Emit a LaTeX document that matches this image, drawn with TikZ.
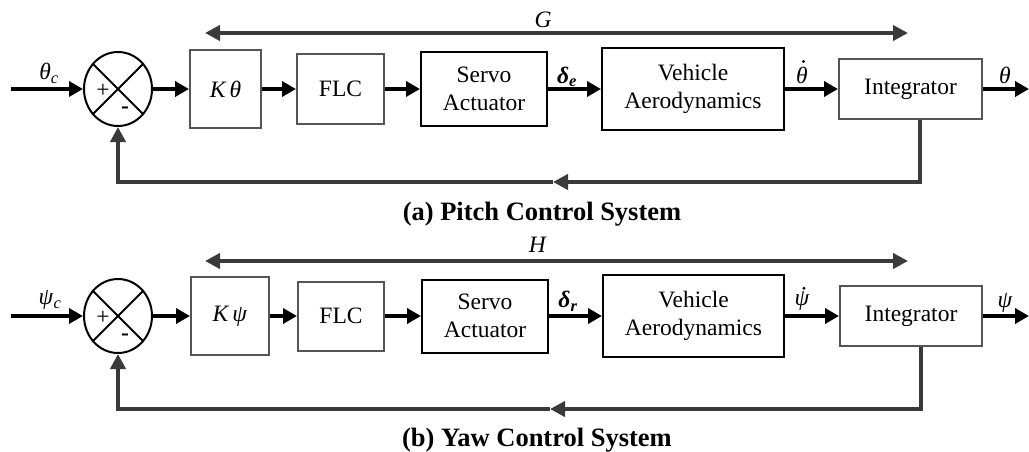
\documentclass[tikz,border=0pt]{standalone}
\usepackage{fontspec}
\setmainfont{Liberation Serif}
\usetikzlibrary{arrows.meta,shapes.geometric}
\definecolor{fbgray}{RGB}{58,58,58}
\definecolor{boxgray}{RGB}{85,85,85}
\tikzset{
  lbl/.style={font=\fontsize{23.5}{28}\selectfont, inner sep=0pt},
  blkbox/.style={draw=#1, line width=2pt, inner sep=0pt, align=center, font=\fontsize{23.5}{28}\selectfont},
  sumnode/.style={ellipse, draw, line width=2pt, minimum width=68pt, minimum height=74pt, inner sep=0pt},
  sig/.style={line width=4pt, -{Triangle[length=14pt,width=15pt]}},
  fbl/.style={line width=4pt, draw=fbgray, line join=miter},
  fbtip/.style={-{Triangle[length=15pt,width=15pt]}},
  caption/.style={font=\bfseries\fontsize{26.5}{30}\selectfont, inner sep=0pt}
}
\begin{document}
\begin{tikzpicture}[x=1pt,y=-1pt]
\useasboundingbox (0,0) rectangle (1029,452);

% ---------- (a) Pitch ----------
\coordinate (in1) at (11,89);
\node[sumnode] (s1) at (118,89) {};
\draw[line width=2pt] (s1.135) -- (s1.-45) (s1.45) -- (s1.-135);
\node[lbl] (p1) at (103,91) {+};
\node[lbl] (n1) at (125,110) {\bfseries -};
\node[blkbox=boxgray, minimum width=71pt, minimum height=78pt] (k1) at (225.5,89) {\textit{K\,θ}};
\node[blkbox=boxgray, minimum width=87pt, minimum height=70pt] (f1) at (340.5,89) {FLC};
\node[blkbox=black, minimum width=126pt, minimum height=73pt] (sv1) at (484,89) {Servo\\Actuator};
\node[blkbox=black, minimum width=182pt, minimum height=82pt] (v1) at (693,89) {Vehicle\\Aerodynamics};
\node[blkbox=boxgray, minimum width=143pt, minimum height=60pt] (i1) at (910.5,89) {Integrator};
\coordinate (out1) at (1029,89);

\draw[sig] (in1) -- (s1.west);
\draw[sig] (s1.east) -- (k1.west);
\draw[sig] (k1.east) -- (f1.west);
\draw[sig] (f1.east) -- (sv1.west);
\draw[sig] (sv1.east) -- (v1.west);
\draw[sig] (v1.east) -- (i1.west);
\draw[sig] (i1.east) -- (out1);

\node[lbl] (tc) at (49,73) {\textit{θ}\textsubscript{\textit{c}}};
\node[lbl] (de) at (567,77) {\textbf{\textit{δ}}\textsubscript{\textbf{\textit{e}}}};
\node[lbl] (td) at (802,75) {\textit{θ}};
\fill (td.north) ++(1.5,-5) circle (1.6pt);
\node[lbl] (to) at (1005,75) {\textit{θ}};

\coordinate (c1) at (920,182);
\coordinate (m1) at (553,182);
\draw[fbl,fbtip] (i1.south -| c1) -- (c1) -- (m1);
\draw[fbl,fbtip] (m1) -| (s1.south);

\coordinate (gl) at (205,33);
\coordinate (gr) at (908,33);
\draw[fbl,{Triangle[length=15pt,width=15pt]}-{Triangle[length=15pt,width=15pt]}] (gl) -- (gr);
\node[lbl] (G) at (543,20) {\textit{G}};

\node[caption] (capa) at (542,214) {(a) Pitch Control System};

% ---------- (b) Yaw ----------
\coordinate (in2) at (11,316);
\node[sumnode] (s2) at (118,316) {};
\draw[line width=2pt] (s2.135) -- (s2.-45) (s2.45) -- (s2.-135);
\node[lbl] (p2) at (103,318) {+};
\node[lbl] (n2) at (125,337) {\bfseries -};
\node[blkbox=boxgray, minimum width=78pt, minimum height=78pt] (k2) at (230,316) {\textit{K\,ψ}};
\node[blkbox=boxgray, minimum width=86pt, minimum height=69pt] (f2) at (341,316) {FLC};
\node[blkbox=black, minimum width=126pt, minimum height=73pt] (sv2) at (485,316) {Servo\\Actuator};
\node[blkbox=black, minimum width=181pt, minimum height=82pt] (v2) at (693.5,316) {Vehicle\\Aerodynamics};
\node[blkbox=boxgray, minimum width=142pt, minimum height=60pt] (i2) at (911,316) {Integrator};
\coordinate (out2) at (1029,316);

\draw[sig] (in2) -- (s2.west);
\draw[sig] (s2.east) -- (k2.west);
\draw[sig] (k2.east) -- (f2.west);
\draw[sig] (f2.east) -- (sv2.west);
\draw[sig] (sv2.east) -- (v2.west);
\draw[sig] (v2.east) -- (i2.west);
\draw[sig] (i2.east) -- (out2);

\node[lbl] (pc) at (50,300) {\textit{ψ}\textsubscript{\textit{c}}};
\node[lbl] (dr) at (568,301) {\textbf{\textit{δ}}\textsubscript{\textbf{\textit{r}}}};
\node[lbl] (pd) at (802,301) {\textit{ψ}};
\fill (pd.north) ++(2,-3) circle (1.6pt);
\node[lbl] (po) at (1005,303) {\textit{ψ}};

\coordinate (c2) at (921,409);
\coordinate (m2) at (550,409);
\draw[fbl,fbtip] (i2.south -| c2) -- (c2) -- (m2);
\draw[fbl,fbtip] (m2) -| (s2.south);

\coordinate (hl) at (205,261);
\coordinate (hr) at (908,261);
\draw[fbl,{Triangle[length=15pt,width=15pt]}-{Triangle[length=15pt,width=15pt]}] (hl) -- (hr);
\node[lbl] (H) at (538,245) {\textit{H}};

\node[caption] (capb) at (537,440) {(b) Yaw Control System};
\end{tikzpicture}
\end{document}
